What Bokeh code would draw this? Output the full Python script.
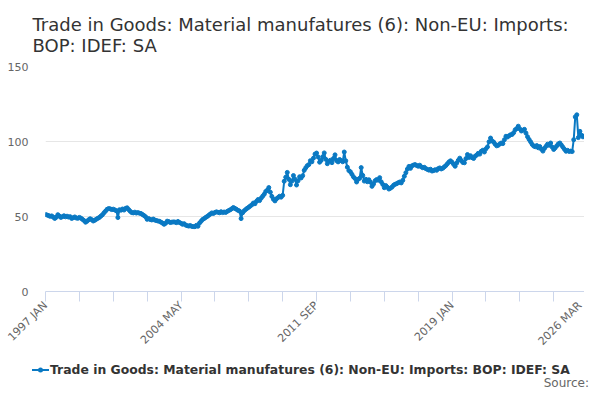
from bokeh.plotting import figure
from bokeh.layouts import column
from bokeh.models import Range1d, FixedTicker, ColumnDataSource, Div
from bokeh.embed import file_html
from bokeh.resources import INLINE

# Monthly index values, 1997 JAN .. 2026 MAR
MONTHS = ["JAN", "FEB", "MAR", "APR", "MAY", "JUN",
          "JUL", "AUG", "SEP", "OCT", "NOV", "DEC"]
START_YEAR = 1997

index_values = [
    51.3, 51.0, 50.6, 50.1, 50.4, 49.6, 48.7, 49.5, 51.2, 50.3, 49.4, 49.9,  # 1997
    50.5, 49.8, 50.2, 49.6, 49.9, 48.7, 49.2, 49.7, 49.0, 48.8, 49.4, 48.9,  # 1998
    48.1, 47.3, 46.2, 46.9, 47.8, 48.5, 47.9, 47.0, 47.5, 48.2, 48.8, 49.4,  # 1999
    50.3, 51.2, 52.5, 53.6, 54.8, 55.3, 55.1, 54.6, 54.9, 54.4, 53.8, 49.3,  # 2000
    54.5, 54.2, 55.0, 54.3, 55.4, 55.8, 54.6, 53.5, 52.6, 52.4, 52.9, 52.3,  # 2001
    52.6, 52.2, 52.0, 51.3, 50.6, 49.8, 48.1, 48.6, 48.0, 47.7, 48.3, 47.6,  # 2002
    47.3, 47.0, 46.8, 46.2, 45.6, 44.8, 45.5, 46.9, 46.6, 46.0, 46.2, 46.4,  # 2003
    46.3, 45.9, 46.7, 46.0, 45.5, 44.8, 45.2, 44.3, 43.9, 43.6, 44.0, 43.4,  # 2004
    43.3, 43.2, 44.1, 43.5, 45.6, 46.8, 48.0, 48.6, 49.4, 50.0, 50.8, 51.6,  # 2005
    52.4, 52.0, 52.7, 53.1, 52.8, 52.5, 53.2, 52.6, 53.0, 52.7, 53.4, 54.0,  # 2006
    54.5, 55.2, 56.0, 55.4, 54.8, 54.1, 53.6, 48.6, 52.5, 53.8, 54.7, 55.5,  # 2007
    56.2, 57.0, 57.8, 59.0, 58.5, 60.1, 61.3, 60.6, 62.2, 63.5, 64.8, 66.7,  # 2008
    67.5, 69.3, 66.2, 63.4, 61.5, 60.4, 61.8, 62.6, 63.5, 62.9, 64.1, 73.5,  # 2009
    76.2, 79.4, 74.8, 71.2, 73.6, 77.3, 74.9, 71.0, 73.8, 76.5, 75.7, 77.2,  # 2010
    80.8, 82.5, 83.9, 84.6, 87.2, 86.5, 88.9, 91.6, 92.3, 89.7, 86.2, 87.4,  # 2011
    89.8, 92.4, 88.1, 85.2, 86.8, 87.5, 85.9, 88.7, 91.1, 87.3, 86.4, 88.0,  # 2012
    87.2, 86.5, 93.0, 87.1, 82.9, 80.6, 79.8, 78.1, 76.4, 75.3, 73.0, 74.8,  # 2013
    75.5, 82.6, 77.4, 73.6, 74.8, 73.2, 74.5, 72.9, 70.1, 71.6, 73.8, 74.6,  # 2014
    74.2, 75.9, 73.1, 71.4, 69.2, 70.6, 69.5, 68.3, 68.9, 69.6, 70.8, 71.5,  # 2015
    71.9, 72.5, 73.0, 72.4, 74.1, 76.8, 79.2, 81.6, 83.4, 82.1, 83.8, 84.3,  # 2016
    84.6, 84.0, 83.5, 84.2, 83.1, 82.5, 82.8, 81.9, 81.4, 80.9, 81.5, 80.3,  # 2017
    80.6, 81.2, 80.8, 81.9, 82.4, 81.7, 82.2, 83.1, 84.0, 85.2, 86.4, 87.1,  # 2018
    86.2, 84.8, 83.5, 85.6, 87.4, 88.9, 87.3, 86.0, 85.8, 88.6, 91.3, 89.4,  # 2019
    90.5, 89.2, 88.7, 90.2, 91.0, 92.1, 91.6, 93.5, 94.2, 93.0, 95.1, 96.4,  # 2020
    99.8, 102.3, 100.4, 99.6, 98.2, 97.1, 97.5, 98.4, 99.0, 98.6, 101.2, 103.5,  # 2021
    103.0, 103.8, 104.5, 104.7, 105.9, 107.8, 108.6, 110.2, 108.4, 107.0, 107.5, 108.1,  # 2022
    105.6, 103.2, 101.4, 99.8, 98.1, 97.0, 96.5, 97.3, 95.8, 96.6, 94.9, 93.6,  # 2023
    95.4, 96.8, 98.2, 97.5, 99.0, 96.3, 94.7, 95.8, 97.1, 98.4, 99.0, 97.6,  # 2024
    96.2, 94.8, 93.5, 94.1, 93.4, 93.6, 93.3, 101.2, 116.4, 117.8, 102.6, 106.8,  # 2025
    104.2, 103.1, 103.7,  # 2026
]

periods = [f"{START_YEAR + i // 12} {MONTHS[i % 12]}" for i in range(len(index_values))]
labelled = [0, 88, 176, 264, len(index_values) - 1]
tick_at = list(range(0, len(index_values) - 1, 22)) + [len(index_values) - 1]
y_ticks = [0, 50, 100, 150]

TITLE = "Trade in Goods: Material manufatures (6): Non-EU: Imports:\nBOP: IDEF: SA"
SERIES = "Trade in Goods: Material manufatures (6): Non-EU: Imports: BOP: IDEF: SA"
BLUE = "#0a79c3"
FONT = "DejaVu Sans"

source = ColumnDataSource(data=dict(x=list(range(len(index_values))), y=index_values, period=periods))

p = figure(width=584, height=355,
           x_range=Range1d(0, len(index_values) - 1), y_range=Range1d(0, 150),
           output_backend="svg", toolbar_location=None,
           min_border_left=45, min_border_right=0, min_border_top=0, min_border_bottom=61)

p.title.text = TITLE
p.title.align = "left"
p.title.offset = -13
p.title.text_font = FONT
p.title.text_font_size = "18px"
p.title.text_font_style = "normal"
p.title.text_color = "#333333"
p.title.standoff = 22

p.line("x", "y", source=source, line_color=BLUE, line_width=2)
p.scatter("x", "y", source=source, size=4, color=BLUE)

p.outline_line_color = None
p.xgrid.grid_line_color = None
p.ygrid.grid_line_color = "#e6e6e6"
p.ygrid.ticker = FixedTicker(ticks=y_ticks)

p.yaxis.ticker = FixedTicker(ticks=y_ticks)
p.yaxis.axis_line_color = None
p.yaxis.major_tick_line_color = None
p.yaxis.minor_tick_line_color = None
p.yaxis.major_label_standoff = 11
p.yaxis.major_label_text_font = FONT
p.yaxis.major_label_text_font_size = "11px"
p.yaxis.major_label_text_color = "#666666"

p.xaxis.ticker = FixedTicker(ticks=tick_at)
p.xaxis.major_label_overrides = {t: (periods[t] if t in labelled else "") for t in tick_at}
p.xaxis.major_label_orientation = 0.785398
p.xaxis.axis_line_color = "#ccd6eb"
p.xaxis.major_tick_line_color = "#ccd6eb"
p.xaxis.major_tick_in = 0
p.xaxis.major_tick_out = 10
p.xaxis.minor_tick_line_color = None
p.xaxis.major_label_standoff = 2
p.xaxis.major_label_text_font = FONT
p.xaxis.major_label_text_font_size = "11px"
p.xaxis.major_label_text_color = "#666666"

# legend key and source note in a strip under the chart
key_svg = (f'<svg width="18" height="8" style="position:absolute;left:27px;top:6px">'
           f'<line x1="0" y1="4" x2="17" y2="4" stroke="{BLUE}" stroke-width="2"/>'
           f'<circle cx="8.5" cy="4" r="2.5" fill="{BLUE}"/></svg>')
strip = Div(width=584, height=29, text=(
    f'<div style="position:relative;width:584px;height:29px;font-family:\'{FONT}\';">'
    f'{key_svg}'
    f'<span style="position:absolute;left:45px;top:3px;font-size:12.4px;line-height:13px;'
    f'font-weight:bold;color:#333333;white-space:nowrap;">{SERIES}</span>'
    f'<span style="position:absolute;right:0px;top:17px;font-size:12px;line-height:12px;'
    f'color:#666666;">Source:</span></div>'))

layout = column(p, strip, spacing=0)
open("out.html", "w").write(file_html(layout, INLINE))
